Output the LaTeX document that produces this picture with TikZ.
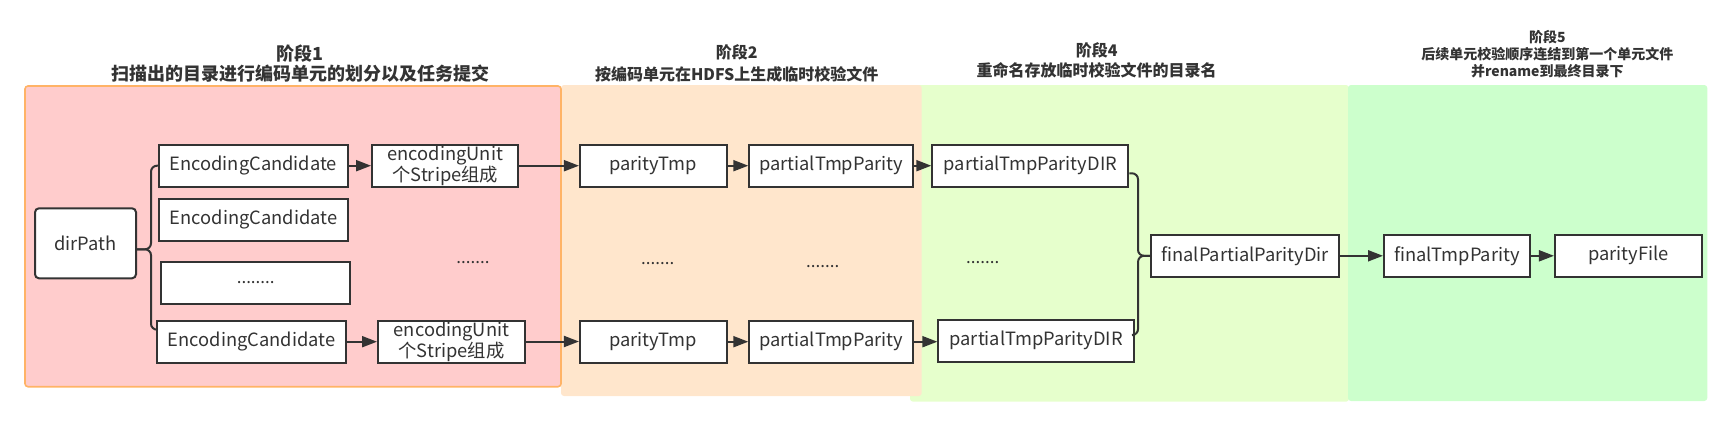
\documentclass[tikz,border=0pt]{standalone}
\usepackage{fontspec}
\setmainfont{Noto Sans CJK SC}
\usetikzlibrary{arrows.meta}
\definecolor{txt}{HTML}{333333}
\definecolor{sone}{HTML}{FFCCCC}
\definecolor{soneb}{HTML}{FFB366}
\definecolor{stwo}{HTML}{FFE6CC}
\definecolor{sthree}{HTML}{E6FFCC}
\definecolor{sfive}{HTML}{CCFFCC}
\tikzset{
  box/.style={draw=txt, line width=2pt, fill=white, minimum height=42pt, inner sep=0pt,
    text=txt, font=\fontsize{18.3}{21}\selectfont, align=center},
  rbox/.style={box, rounded corners=4pt},
  conn/.style={draw=txt, line width=2pt, rounded corners=6pt},
  arr/.style={draw=txt, line width=2pt, -{Triangle[length=15pt,width=11pt]}},
  dots/.style={text=txt, font=\fontsize{17}{17}\selectfont, inner sep=0pt, anchor=base},
  ttl/.style={text=txt, align=center, inner sep=0pt, font=\bfseries}
}
\begin{document}
\begin{tikzpicture}[x=1pt,y=-1pt]
\useasboundingbox (0,0) rectangle (1732,426);
% stage backgrounds
\fill[sthree, rounded corners=3pt] (910,85) rectangle (1349,401.7);
\fill[sfive, rounded corners=3pt] (1348,85) rectangle (1707.3,401);
\fill[stwo, rounded corners=3pt] (561,85) rectangle (921.7,396);
\filldraw[fill=sone, draw=soneb, line width=1.6pt, rounded corners=3pt] (25,86) rectangle (561,386.7);
% titles
\node[ttl, font=\bfseries\fontsize{18}{20.7}\selectfont] (t1) at (300,63.7) {阶段1\\扫描出的目录进行编码单元的划分以及任务提交};
\node[ttl, font=\bfseries\fontsize{16}{21.6}\selectfont] (t2) at (736.7,63.5) {阶段2\\按编码单元在HDFS上生成临时校验文件};
\node[ttl, font=\bfseries\fontsize{16}{20}\selectfont] (t4) at (1096.7,60.7) {阶段4\\重命名存放临时校验文件的目录名};
\node[ttl, font=\bfseries\fontsize{14}{16.7}\selectfont] (t5) at (1547.3,54) {阶段5\\后续单元校验顺序连结到第一个单元文件\\并rename到最终目录下};
% nodes
\node[rbox, minimum width=101pt, minimum height=70pt] (dirPath) at (85.5,243.3) {dirPath};
\node[box, minimum width=188.7pt] (ec1) at (253.3,165.7) {EncodingCandidate};
\node[box, minimum width=189pt] (ec2) at (253.5,219.7) {EncodingCandidate};
\node[box, minimum width=188.7pt] (ecd) at (255.7,283) {\fontsize{17}{17}\selectfont ........};
\node[box, minimum width=189pt] (ec4) at (251.5,341.7) {EncodingCandidate};
\node[box, minimum width=146.3pt] (eu1) at (445.2,165.7) {encodingUnit\\个Stripe组成};
\node[box, minimum width=147pt] (eu2) at (451.5,341.5) {encodingUnit\\个Stripe组成};
\node[box, minimum width=146.7pt] (pt1) at (653.3,165.7) {parityTmp};
\node[box, minimum width=163.4pt] (ptp1) at (831,165.7) {partialTmpParity};
\node[box, minimum width=146.7pt] (pt2) at (653.3,341.7) {parityTmp};
\node[box, minimum width=163.4pt] (ptp2) at (831,341.7) {partialTmpParity};
\node[box, minimum width=196pt] (dir1) at (1030.3,165.7) {partialTmpParityDIR};
\node[box, minimum width=195.7pt] (dir2) at (1036.2,340.5) {partialTmpParityDIR};
\node[box, minimum width=188.3pt] (fppd) at (1245.2,255.8) {finalPartialParityDir};
\node[box, minimum width=146pt] (ftp) at (1457,255.8) {finalTmpParity};
\node[box, minimum width=146.7pt] (pf) at (1628.3,255.5) {parityFile};
% dots
\node[dots] (d1) at (473,263) {.......};
\node[dots] (d2) at (657.7,264) {.......};
\node[dots] (d3) at (822.7,267) {.......};
\node[dots] (d4) at (982.7,263) {.......};
% brackets
\draw[conn] ([yshift=-6pt]dirPath.east) -- ++(14,0) |- (ec1.west);
\draw[conn] ([yshift=-6pt]dirPath.east) -- ++(14,0) |- ([yshift=12pt]ec4.west);
\draw[conn] ([yshift=-7.6pt]dir1.east) -- ++(8.7,0) |- (fppd.west);
\draw[conn] ([yshift=5.5pt]dir2.east) -- ++(3,0) |- (fppd.west);
% arrows
\draw[arr] (ec1.east) -- (eu1.west);
\draw[arr] (ec4.east) -- (eu2.west |- ec4.east);
\draw[arr] (eu1.east) -- (pt1.west);
\draw[arr] (eu2.east) -- (pt2.west |- eu2.east);
\draw[arr] (pt1.east) -- (ptp1.west);
\draw[arr] (ptp1.east) -- (dir1.west);
\draw[arr] (pt2.east) -- (ptp2.west);
\draw[arr] (ptp2.east) -- (dir2.west |- ptp2.east);
\draw[arr] (fppd.east) -- (ftp.west);
\draw[arr] (ftp.east) -- (pf.west |- ftp.east);
\end{tikzpicture}
\end{document}
